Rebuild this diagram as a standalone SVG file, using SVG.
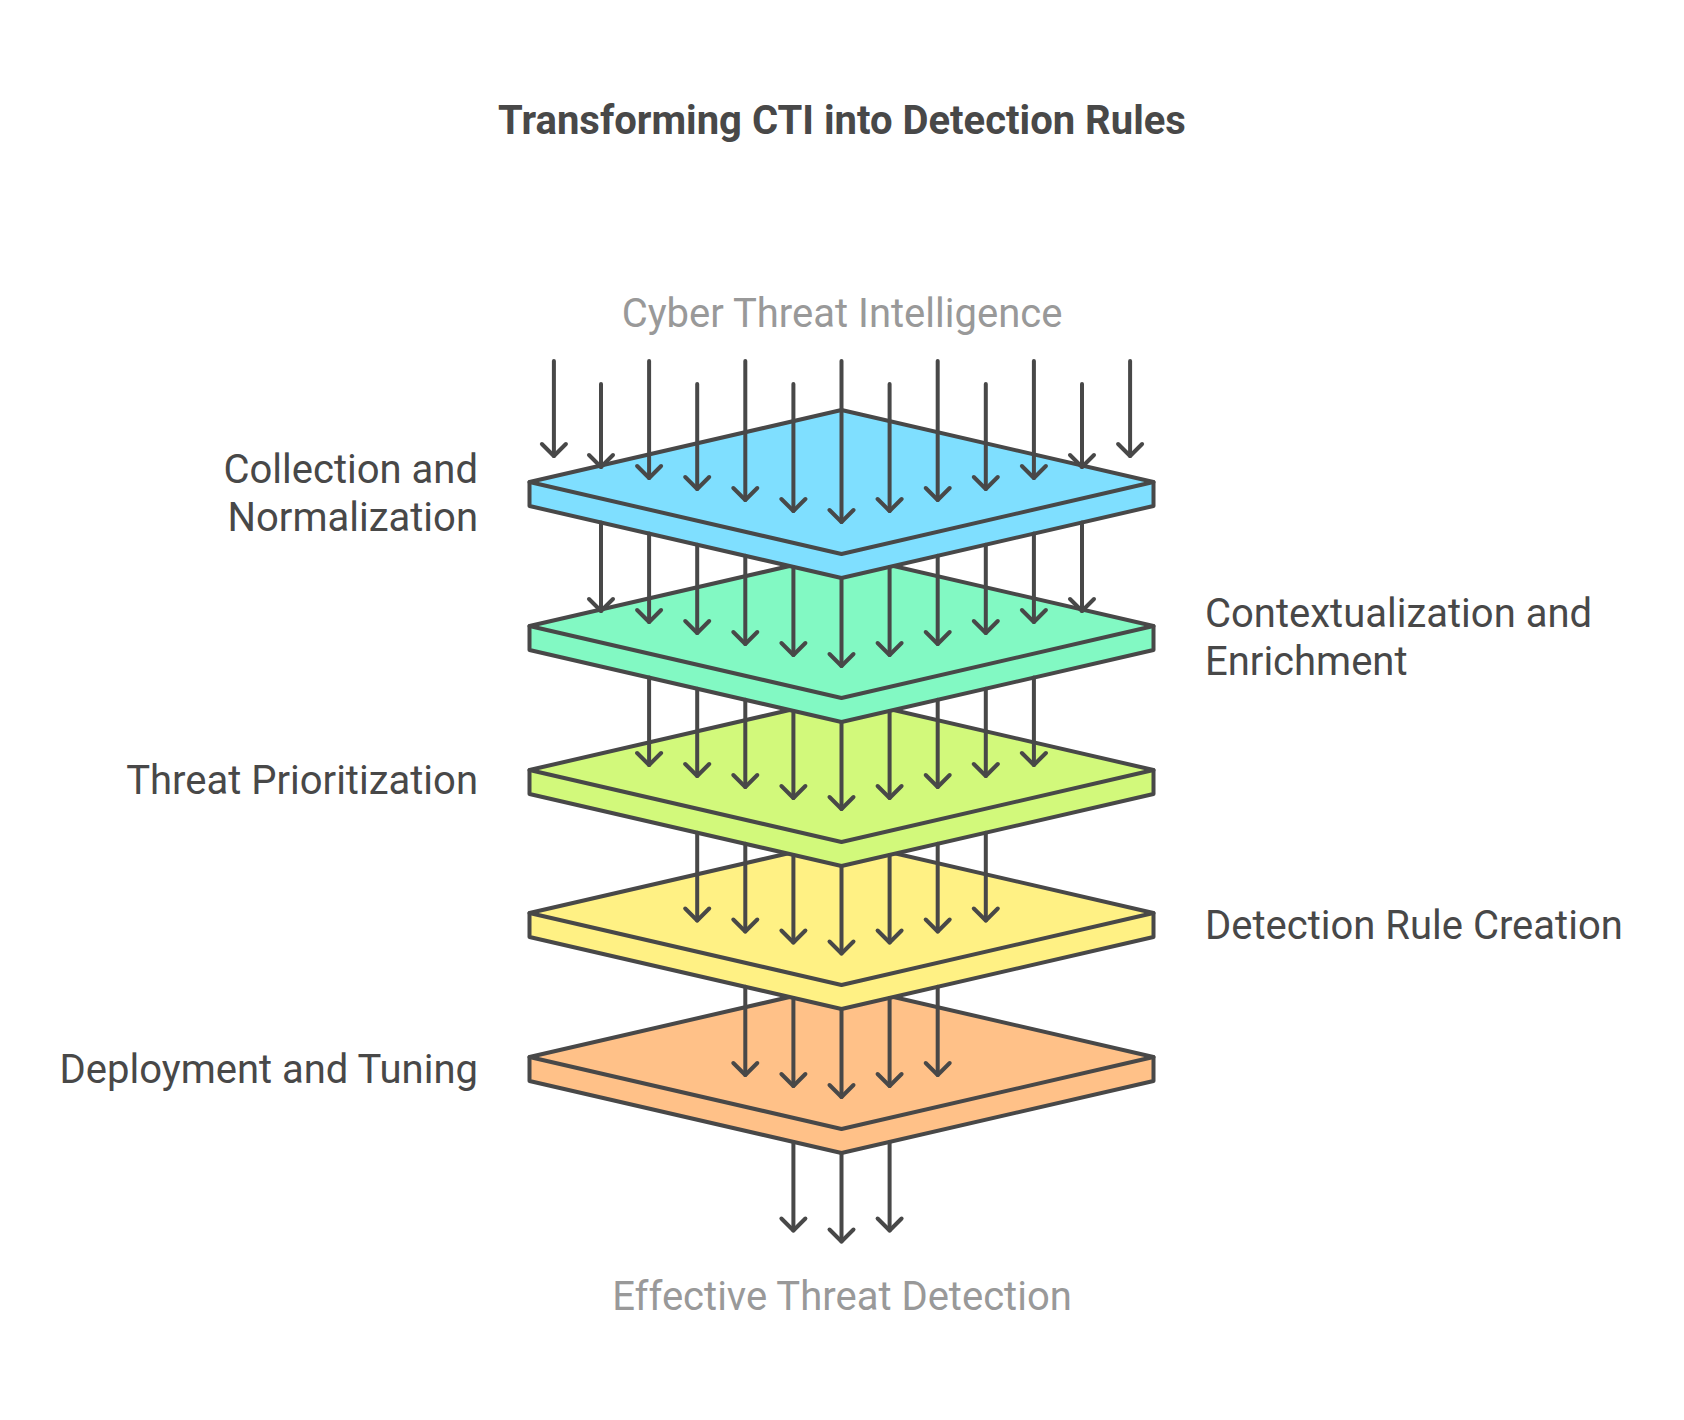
<svg xmlns="http://www.w3.org/2000/svg" width="1684" height="1420" viewBox="0 0 1684 1420">
<defs>
<style>
.slab{stroke:#484848;stroke-width:4;stroke-linejoin:round;stroke-linecap:round}
.edge{fill:none;stroke:#484848;stroke-width:4;stroke-linejoin:round;stroke-linecap:round}
.arr{fill:none;stroke:#484848;stroke-width:4;stroke-linecap:round;marker-end:url(#ah)}
.title{font-family:Roboto,"Liberation Sans",sans-serif;font-weight:bold;font-size:40px;fill:#484848;text-anchor:middle}
.io{font-family:Roboto,"Liberation Sans",sans-serif;font-size:40px;fill:#999999;text-anchor:middle}
.lbl{font-family:Roboto,"Liberation Sans",sans-serif;font-size:40px;fill:#484848}
.l{text-anchor:end}
.r{text-anchor:start}
</style>
<marker id="ah" markerUnits="userSpaceOnUse" markerWidth="40" markerHeight="40" viewBox="-20 -20 40 40" refX="0" refY="0" orient="auto" overflow="visible">
<path d="M-12,-12 L0,0 L-12,12" fill="none" stroke="#484848" stroke-width="4" stroke-linecap="round" stroke-linejoin="round"/>
</marker>
</defs>
<rect width="1684" height="1420" fill="#ffffff"/>
<text class="title" x="842" y="134">Transforming CTI into Detection Rules</text>
<text class="io" x="842" y="327">Cyber Threat Intelligence</text>
<text class="io" x="842" y="1310">Effective Threat Detection</text>

<g id="layer5">
<path class="slab" fill="#FFC188" d="M529.5,1057 L841.5,985 L1153.5,1057 L1153.5,1081 L841.5,1153 L529.5,1081 Z"/>
<path class="edge" d="M529.5,1057 L841.5,1129 L1153.5,1057"/>
<text class="lbl l" x="478" y="1083">Deployment and Tuning</text>
</g>
<g id="layer4">
<path class="slab" fill="#FFF184" d="M529.5,913 L841.5,841 L1153.5,913 L1153.5,937 L841.5,1009 L529.5,937 Z"/>
<path class="edge" d="M529.5,913 L841.5,985 L1153.5,913"/>
<text class="lbl r" x="1205" y="939">Detection Rule Creation</text>
</g>
<g id="layer3">
<path class="slab" fill="#D2F97B" d="M529.5,770 L841.5,698 L1153.5,770 L1153.5,794 L841.5,866 L529.5,794 Z"/>
<path class="edge" d="M529.5,770 L841.5,842 L1153.5,770"/>
<text class="lbl l" x="478" y="794">Threat Prioritization</text>
</g>
<g id="layer2">
<path class="slab" fill="#82F9C3" d="M529.5,626 L841.5,554 L1153.5,626 L1153.5,650 L841.5,722 L529.5,650 Z"/>
<path class="edge" d="M529.5,626 L841.5,698 L1153.5,626"/>
<text class="lbl r" x="1205" y="627">Contextualization and</text>
<text class="lbl r" x="1205" y="675">Enrichment</text>
</g>
<g id="layer1">
<path class="slab" fill="#7FDFFF" d="M529.5,482 L841.5,410 L1153.5,482 L1153.5,506 L841.5,578 L529.5,506 Z"/>
<path class="edge" d="M529.5,482 L841.5,554 L1153.5,482"/>
<text class="lbl l" x="478" y="483">Collection and</text>
<text class="lbl l" x="478" y="531">Normalization</text>
</g>

<g id="connectors">
<path class="arr" d="M553.9,361 V456"/>
<path class="arr" d="M601,384 V467"/>
<path class="arr" d="M649.1,361 V478"/>
<path class="arr" d="M697.2,384 V489"/>
<path class="arr" d="M745.3,361 V500"/>
<path class="arr" d="M793.4,384 V511"/>
<path class="arr" d="M841.5,361 V522"/>
<path class="arr" d="M889.6,384 V511"/>
<path class="arr" d="M937.7,361 V500"/>
<path class="arr" d="M985.8,384 V489"/>
<path class="arr" d="M1033.9,361 V478"/>
<path class="arr" d="M1082,384 V467"/>
<path class="arr" d="M1130.1,361 V456"/>

<path class="arr" d="M601,522.5 V611"/>
<path class="arr" d="M649.1,533.6 V622"/>
<path class="arr" d="M697.2,544.7 V633"/>
<path class="arr" d="M745.3,555.8 V644"/>
<path class="arr" d="M793.4,566.9 V655"/>
<path class="arr" d="M841.5,578 V666"/>
<path class="arr" d="M889.6,566.9 V655"/>
<path class="arr" d="M937.7,555.8 V644"/>
<path class="arr" d="M985.8,544.7 V633"/>
<path class="arr" d="M1033.9,533.6 V622"/>
<path class="arr" d="M1082,522.5 V611"/>

<path class="arr" d="M649.1,677.6 V765"/>
<path class="arr" d="M697.2,688.7 V776"/>
<path class="arr" d="M745.3,699.8 V787"/>
<path class="arr" d="M793.4,710.9 V798"/>
<path class="arr" d="M841.5,722 V809"/>
<path class="arr" d="M889.6,710.9 V798"/>
<path class="arr" d="M937.7,699.8 V787"/>
<path class="arr" d="M985.8,688.7 V776"/>
<path class="arr" d="M1033.9,677.6 V765"/>

<path class="arr" d="M697.2,832.7 V920.5"/>
<path class="arr" d="M745.3,843.8 V931.5"/>
<path class="arr" d="M793.4,854.9 V942.5"/>
<path class="arr" d="M841.5,866 V953.5"/>
<path class="arr" d="M889.6,854.9 V942.5"/>
<path class="arr" d="M937.7,843.8 V931.5"/>
<path class="arr" d="M985.8,832.7 V920.5"/>

<path class="arr" d="M745.3,986.8 V1075"/>
<path class="arr" d="M793.4,997.9 V1086"/>
<path class="arr" d="M841.5,1009 V1097"/>
<path class="arr" d="M889.6,997.9 V1086"/>
<path class="arr" d="M937.7,986.8 V1075"/>

<path class="arr" d="M793.4,1141.9 V1230.5"/>
<path class="arr" d="M841.5,1153 V1241.5"/>
<path class="arr" d="M889.6,1141.9 V1230.5"/>
</g>
</svg>
